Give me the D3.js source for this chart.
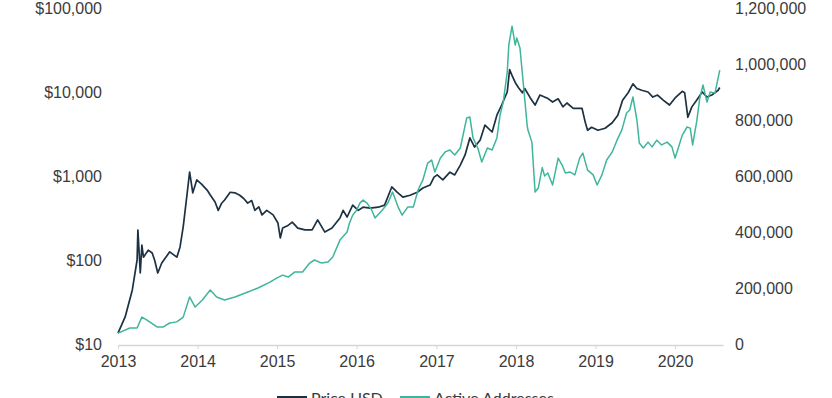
<!DOCTYPE html>
<html>
<head>
<meta charset="utf-8">
<script src="https://cdn.jsdelivr.net/npm/d3@7"></script>
<style>
  html, body { margin: 0; padding: 0; background: #fff; }
  svg { display: block; font-family: Lato, "Open Sans", sans-serif; }
  .axis text { fill: #3b3b3b; font-size: 16px; }
  .axis path, .axis line { stroke: #d6d6d6; }
</style>
</head>
<body>
<svg id="chart" width="832" height="398"></svg>
<script>
// --- DATI ---
const yearTicks = [2013, 2014, 2015, 2016, 2017, 2018, 2019, 2020];
const priceTicks = [10, 100, 1000, 10000, 100000];
const addressTicks = [0, 200000, 400000, 600000, 800000, 1000000, 1200000];

// Prezzo BTC (anno decimale, USD)
const priceYears = [
  2013.00, 2013.09, 2013.18, 2013.24, 2013.25, 2013.28, 2013.30, 2013.32, 2013.38, 2013.43,
  2013.46, 2013.50, 2013.55, 2013.65, 2013.74, 2013.78, 2013.82, 2013.87, 2013.90, 2013.94,
  2013.99, 2014.05, 2014.12, 2014.16, 2014.22, 2014.26, 2014.30, 2014.34, 2014.41, 2014.47,
  2014.53, 2014.58, 2014.63, 2014.68, 2014.72, 2014.77, 2014.81, 2014.87, 2014.95, 2015.01,
  2015.04, 2015.07, 2015.13, 2015.19, 2015.26, 2015.35, 2015.44, 2015.51, 2015.60, 2015.69,
  2015.79, 2015.83, 2015.88, 2015.95, 2016.02, 2016.08, 2016.17, 2016.27, 2016.35, 2016.44,
  2016.51, 2016.58, 2016.67, 2016.76, 2016.83, 2016.92, 2016.97, 2017.01, 2017.08, 2017.17,
  2017.23, 2017.30, 2017.36, 2017.42, 2017.48, 2017.55, 2017.61, 2017.70, 2017.76, 2017.82,
  2017.89, 2017.92, 2017.96, 2017.99, 2018.03, 2018.08, 2018.11, 2018.18, 2018.24, 2018.30,
  2018.36, 2018.39, 2018.46, 2018.53, 2018.59, 2018.64, 2018.72, 2018.83, 2018.87, 2018.90,
  2018.95, 2019.03, 2019.12, 2019.21, 2019.28, 2019.34, 2019.41, 2019.47, 2019.52, 2019.58,
  2019.66, 2019.72, 2019.78, 2019.85, 2019.93, 2020.00, 2020.09, 2020.12, 2020.16, 2020.21,
  2020.27, 2020.34, 2020.40, 2020.46, 2020.54, 2020.56
];
const priceValues = [
  13.5, 21, 44, 100, 227, 70, 150, 108, 131, 121,
  100, 70, 92, 125, 108, 143, 250, 628, 1116, 630,
  897, 800, 680, 593, 490, 390, 470, 518, 640, 630,
  590, 540, 475, 510, 390, 430, 344, 390, 344, 276,
  183, 240, 255, 283, 240, 228, 228, 300, 215, 240,
  316, 390, 325, 450, 390, 425, 415, 425, 450, 740,
  640, 560, 590, 640, 720, 780, 970, 1030, 900, 1110,
  1030, 1350, 1780, 2840, 2210, 2690, 4040, 3340, 5300, 7000,
  10000, 18500, 15000, 13000, 11300, 9800, 11000, 8500, 7000, 9200,
  8700, 8500, 7600, 8300, 6650, 7400, 6400, 6400, 4380, 3500,
  3800, 3500, 3700, 4300, 5300, 8000, 9800, 12500, 11000, 10500,
  10000, 8700, 9200, 8000, 7000, 8500, 10200, 9800, 5000, 6650,
  8000, 10000, 8700, 9200, 10500, 11300
];

// Indirizzi attivi (anno decimale, numero)
const addressYears = [
  2013.00, 2013.15, 2013.24, 2013.30, 2013.36, 2013.49, 2013.57, 2013.65, 2013.74, 2013.82,
  2013.90, 2013.97, 2014.06, 2014.16, 2014.24, 2014.34, 2014.47, 2014.60, 2014.76, 2014.91,
  2015.00, 2015.07, 2015.14, 2015.22, 2015.32, 2015.41, 2015.47, 2015.56, 2015.64, 2015.70,
  2015.79, 2015.88, 2015.91, 2015.95, 2016.00, 2016.04, 2016.08, 2016.13, 2016.19, 2016.23,
  2016.32, 2016.39, 2016.45, 2016.52, 2016.57, 2016.64, 2016.71, 2016.77, 2016.83, 2016.89,
  2016.94, 2016.98, 2017.05, 2017.11, 2017.17, 2017.23, 2017.30, 2017.38, 2017.42, 2017.46,
  2017.52, 2017.57, 2017.64, 2017.70, 2017.76, 2017.80, 2017.84, 2017.89, 2017.91, 2017.95,
  2017.99, 2018.01, 2018.05, 2018.09, 2018.14, 2018.15, 2018.20, 2018.24, 2018.28, 2018.33,
  2018.36, 2018.40, 2018.46, 2018.53, 2018.58, 2018.62, 2018.68, 2018.74, 2018.80, 2018.84,
  2018.90, 2018.97, 2019.02, 2019.08, 2019.14, 2019.21, 2019.27, 2019.33, 2019.39, 2019.43,
  2019.47, 2019.52, 2019.55, 2019.60, 2019.66, 2019.71, 2019.77, 2019.83, 2019.90, 2019.96,
  2020.00, 2020.04, 2020.09, 2020.15, 2020.19, 2020.22, 2020.27, 2020.31, 2020.35, 2020.40,
  2020.44, 2020.50, 2020.56
];
const addressValues = [
  39000, 57000, 57000, 96000, 86000, 61000, 61000, 75000, 79000, 96000,
  168000, 132000, 157000, 193000, 168000, 157000, 168000, 182000, 200000, 221000,
  236000, 246000, 239000, 257000, 257000, 289000, 300000, 289000, 293000, 311000,
  371000, 400000, 432000, 460000, 478000, 503000, 514000, 503000, 478000, 450000,
  478000, 503000, 543000, 489000, 460000, 489000, 489000, 550000, 586000, 646000,
  657000, 614000, 664000, 686000, 693000, 675000, 700000, 807000, 811000, 736000,
  700000, 650000, 700000, 693000, 736000, 818000, 864000, 971000, 1068000, 1135000,
  1068000, 1093000, 1057000, 936000, 782000, 764000, 721000, 543000, 557000, 630000,
  600000, 611000, 568000, 664000, 639000, 611000, 614000, 604000, 664000, 682000,
  621000, 604000, 568000, 604000, 657000, 686000, 728000, 764000, 825000, 836000,
  882000, 800000, 718000, 700000, 721000, 704000, 728000, 711000, 721000, 704000,
  664000, 700000, 746000, 775000, 771000, 711000, 793000, 879000, 925000, 864000,
  900000, 896000, 978000
];

const colors = { price: "#1c3142", addresses: "#3fb59b" };

// Anno decimale -> Date
function yearToDate(y) {
  const yr = Math.floor(y);
  const start = new Date(yr, 0, 1), end = new Date(yr + 1, 0, 1);
  return new Date(+start + (y - yr) * (end - start));
}

const svg = d3.select("#chart");

// Scale
const x = d3.scaleTime()
  .domain([yearToDate(2013), yearToDate(2020.6)])
  .range([118, 118 + 7.6 * 79.6]);
const yPrice = d3.scaleLog().domain([10, 100000]).range([344, 8]);
const yAddr = d3.scaleLinear().domain([0, 1200000]).range([344, 8]);

// Asse X
const xAxis = svg.append("g")
  .attr("class", "axis")
  .attr("transform", "translate(0,345)")
  .call(d3.axisBottom(x)
    .tickValues(yearTicks.map(yearToDate))
    .tickFormat(d3.timeFormat("%Y"))
    .tickSizeInner(4).tickSizeOuter(0).tickPadding(7));
xAxis.select(".domain").attr("stroke-width", 1.5);

// Asse sinistro (prezzo)
svg.append("g")
  .attr("class", "axis")
  .attr("transform", "translate(102,0)")
  .call(d3.axisLeft(yPrice)
    .tickValues(priceTicks)
    .tickFormat(d => "$" + d3.format(",")(d))
    .tickSize(0).tickPadding(0))
  .call(g => g.select(".domain").remove());

// Asse destro (indirizzi)
svg.append("g")
  .attr("class", "axis")
  .attr("transform", "translate(735,0)")
  .call(d3.axisRight(yAddr)
    .tickValues(addressTicks)
    .tickFormat(d3.format(","))
    .tickSize(0).tickPadding(0))
  .call(g => g.select(".domain").remove());

// Linee
const priceData = priceYears.map((t, i) => ({ date: yearToDate(t), value: priceValues[i] }));
const addrData = addressYears.map((t, i) => ({ date: yearToDate(t), value: addressValues[i] }));

svg.append("path")
  .datum(priceData)
  .attr("fill", "none")
  .attr("stroke", colors.price)
  .attr("stroke-width", 1.7)
  .attr("stroke-linejoin", "round")
  .attr("d", d3.line().x(d => x(d.date)).y(d => yPrice(d.value)));

svg.append("path")
  .datum(addrData)
  .attr("fill", "none")
  .attr("stroke", colors.addresses)
  .attr("stroke-width", 1.5)
  .attr("stroke-linejoin", "round")
  .attr("d", d3.line().x(d => x(d.date)).y(d => yAddr(d.value)));

// Legenda (in basso, parzialmente tagliata come nell'originale)
const legend = [
  { label: "Price USD", color: colors.price, x: 277 },
  { label: "Active Addresses", color: colors.addresses, x: 400 }
];
const lg = svg.append("g").selectAll("g").data(legend).join("g")
  .attr("transform", d => `translate(${d.x},0)`);
lg.append("line")
  .attr("x1", 0).attr("x2", 30).attr("y1", 397).attr("y2", 397)
  .attr("stroke", d => d.color).attr("stroke-width", 2);
lg.append("text")
  .attr("x", 34).attr("y", 404)
  .attr("fill", "#3b3b3b")
  .style("font-size", "16px")
  .text(d => d.label);
</script>
</body>
</html>
